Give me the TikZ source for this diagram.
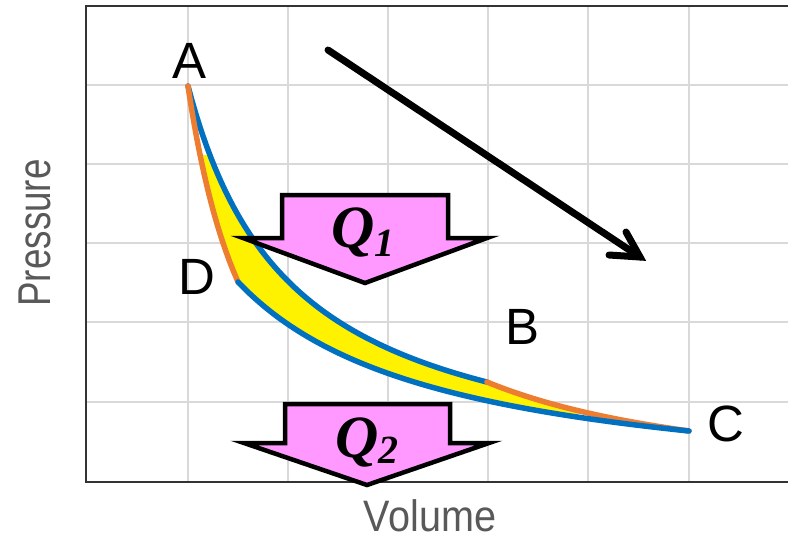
\documentclass[tikz,border=0pt]{standalone}
\usepackage{fontspec}
\setmainfont{Liberation Sans}
\newfontfamily\qfont{Liberation Serif}
\definecolor{gridc}{HTML}{D9D9D9}
\definecolor{isoblue}{HTML}{0070C0}
\definecolor{adorange}{HTML}{ED7D31}
\definecolor{cycyellow}{HTML}{FFF200}
\definecolor{qpink}{HTML}{FF99FF}
\definecolor{axgray}{HTML}{595959}
\begin{document}
\begin{tikzpicture}[x=1pt,y=-1pt,
  gridline/.style={draw=gridc, line width=1.5pt},
  frameline/.style={draw=black!80, line width=1.5pt},
  iso/.style={draw=isoblue, line width=5.5pt, line cap=round},
  adia/.style={draw=adorange, line width=5.5pt, line cap=round},
  qarrow/.style={draw=black, fill=qpink, line width=4.5pt, line join=miter},
  ptlabel/.style={font=\fontsize{51}{51}\selectfont, inner sep=0pt},
  qlabel/.style={font=\qfont\bfseries\itshape\fontsize{60}{60}\selectfont, inner sep=0pt},
  axlabel/.style={text=axgray, inner sep=0pt},
  bigarrow/.style={draw=black, line width=7pt, line cap=round, line join=miter}
]
\useasboundingbox (0,0) rectangle (788,539);
\fill[white] (0,0) rectangle (788,539);
% grid
\foreach \gx in {188,288,388,488,588,689} \draw[gridline] (\gx,6) -- (\gx,482);
\foreach \gy in {85,164,243,322,402} \draw[gridline] (86,\gy) -- (788,\gy);
\draw[frameline] (788,6) -- (86,6) -- (86,482) -- (788,482);
% yellow cycle area
\begin{scope}
\clip (0,155) rectangle (578,539);
\fill[cycyellow] plot[domain=188:487,samples=80] (\x,{486-420/((\x-83)/100)})
  -- plot[domain=487:689,samples=40] (\x,{482-100*pow(4.01/((\x-86)/100),1.65)})
  -- plot[domain=689:238,samples=80] (\x,{499.3-449.2/((\x-31.3)/100)})
  -- plot[domain=238:188,samples=40] (\x,{482-396*pow(1.02/((\x-86)/100),1.71)})
  -- cycle;
\end{scope}
% curves
\draw[iso] plot[domain=188:487,samples=80] (\x,{486-420/((\x-83)/100)});
\draw[adia] plot[domain=487:689,samples=40] (\x,{482-100*pow(4.01/((\x-86)/100),1.65)});
\draw[adia] plot[domain=188:238,samples=40] (\x,{482-396*pow(1.02/((\x-86)/100),1.71)});
\draw[iso] plot[domain=238:689,samples=80] (\x,{499.3-449.2/((\x-31.3)/100)});
% point labels
\node[ptlabel] (lA) at (190,61) {A};
\node[ptlabel] (lB) at (523,327) {B};
\node[ptlabel] (lC) at (726,424) {C};
\node[ptlabel] (lD) at (197,277) {D};
% heat arrows
\draw[qarrow] (282,195) -- (448,195) -- (448,238) -- (487,238) -- (365,283) -- (243,238) -- (282,238) -- cycle;
\draw[qarrow] (285,404) -- (450,404) -- (450,443) -- (489,443) -- (367,485) -- (244,443) -- (285,443) -- cycle;
\node[qlabel, anchor=base] (q1) at (363,247) {Q\raisebox{-9pt}{\fontsize{40}{40}\selectfont 1}};
\node[qlabel, anchor=base] (q2) at (367,457) {Q\raisebox{-6pt}{\fontsize{40}{40}\selectfont 2}};
% direction arrow
\coordinate (ar0) at (328,50);
\coordinate (ar1) at (640,257);
\coordinate (arh1) at (626,232);
\coordinate (arh2) at (609,255);
\draw[bigarrow] (ar0) -- (ar1);
\draw[bigarrow] (arh1) -- (ar1) -- (arh2);
% axis labels
\node[axlabel, font=\fontsize{44}{44}\selectfont] (xl) at (430,516) {\scalebox{0.9}[1]{Volume}};
\node[axlabel, rotate=90, font=\fontsize{46}{46}\selectfont] (yl) at (35,233) {\scalebox{0.8}[1]{Pressure}};
\end{tikzpicture}
\end{document}
